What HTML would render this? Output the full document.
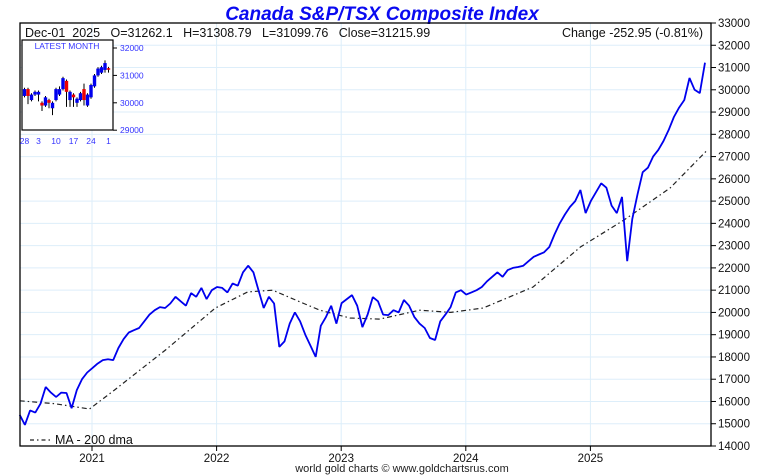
<!DOCTYPE html>
<html><head><meta charset="utf-8"><style>
html,body{margin:0;padding:0;background:#fff;}
svg{display:block;font-family:"Liberation Sans",sans-serif;}
</style></head><body>
<svg id="chart" width="760" height="475" viewBox="0 0 760 475">
<rect width="760" height="475" fill="#fff"/>
<text x="382" y="20" text-anchor="middle" font-size="19" font-weight="bold" font-style="italic" fill="#0a0af0">Canada S&amp;P/TSX Composite Index</text>
<g id="grid"></g>
<g id="yaxis"></g>
<g id="xaxis"></g>
<path id="ma" fill="none" stroke="#222" stroke-width="1.2" stroke-dasharray="5,3,1.5,3"/>
<path id="price" fill="none" stroke="#0000ee" stroke-width="1.8" stroke-linejoin="bevel"/>
<rect x="20" y="23" width="691" height="423" fill="none" stroke="#000" stroke-width="1.3"/>
<text x="25" y="37" font-size="12.5" fill="#111" xml:space="preserve">Dec-01  2025   O=31262.1   H=31308.79   L=31099.76   Close=31215.99</text>
<text x="703" y="37" text-anchor="end" font-size="12.5" fill="#111">Change -252.95 (-0.81%)</text>
<g id="inset">
<rect x="22" y="40" width="91" height="90" fill="#fff" stroke="#000" stroke-width="1.2"/>
<text x="67" y="49" text-anchor="middle" font-size="8.5" fill="#3333ff">LATEST MONTH</text>
</g>
<g>
<line x1="30" y1="440" x2="50" y2="440" stroke="#222" stroke-width="1.2" stroke-dasharray="4,3,1.5,3"/>
<text x="55" y="444" font-size="12.5" fill="#111">MA - 200 dma</text>
</g>
<text x="402" y="472" text-anchor="middle" font-size="11" fill="#222">world gold charts © www.goldchartsrus.com</text>
</svg>
<script>
const yTicks=[14000,15000,16000,17000,18000,19000,20000,21000,22000,23000,24000,25000,26000,27000,28000,29000,30000,31000,32000,33000];
const yearTicks=[2021,2022,2023,2024,2025];
const priceStart=2020.42; // semi-monthly samples
const priceValues=[
15400,14950,15600,15500,15900,16650,16400,16200,16400,16380,15700,16510,17000,17300,
17500,17700,17860,17900,17860,18400,18800,19100,19200,19300,19600,19900,20100,20240,20200,20400,20700,20500,20300,20870,20700,21100,20600,21000,
21140,21100,20900,21300,21200,21800,22100,21800,21000,20200,20700,20400,18450,18700,19500,20000,19600,19000,18500,18000,19400,19800,20300,19500,
20420,20600,20780,20300,19340,19900,20690,20500,19900,19880,20100,20000,20560,20300,19800,19500,19300,18850,18760,19600,19900,20240,20900,21000,
20800,20900,21000,21140,21400,21600,21800,21600,21900,22000,22040,22100,22300,22500,22600,22700,22940,23500,24000,24400,24740,25000,25500,24460,
25000,25400,25800,25600,24800,24460,25190,22300,24200,25300,26300,26500,27000,27300,27700,28200,28780,29200,29540,30530,30000,29850,31216];
const maDates=[2020.42,2020.70,2020.98,2021.18,2021.59,2021.99,2022.25,2022.45,2022.70,2022.83,2023.07,2023.31,2023.63,2023.88,2024.14,2024.54,2024.92,2025.27,2025.64,2025.94];
const maValues=[16030,15900,15660,16510,18310,20200,20920,21000,20400,20100,19750,19700,20100,20000,20200,21140,22940,24150,25590,27300];
const candleLabels=["28","3","10","17","24","1"];
const candleLabelIdx=[0,4,9,14,19,24];
const candleOpen =[30250,30500,30100,30300,30300,30000,29900,30100,29800,30100,30300,30500,30800,30100,30300,30000,30100,30500,29900,30200,30600,31000,31100,31200,31262];
const candleClose=[30500,30250,30300,30400,30400,29900,30200,30000,30000,30500,30500,30900,30400,30400,30200,30150,30350,30100,30300,30650,31000,31250,31300,31450,31216];
const candleHigh =[30550,30550,30350,30450,30450,30050,30250,30150,30050,30550,30600,30950,30850,30450,30350,30200,30400,30700,30350,30700,31050,31300,31350,31550,31309];
const candleLow  =[30200,29950,30050,30250,30050,29700,29850,29800,29550,30050,30250,30450,29850,29850,29850,29850,30050,29900,29850,30150,30550,30950,31050,31100,31100];
const insetTicks=[29000,30000,31000,32000];

const NS="http://www.w3.org/2000/svg";
const X0=20,X1=711,Y0=23,Y1=446;
const xs=d=>92+(d-2021)*124.6;
const ys=v=>Y1-(v-14000)/(33000-14000)*(Y1-Y0);
function mk(tag,attrs,parent){const e=document.createElementNS(NS,tag);for(const k in attrs)e.setAttribute(k,attrs[k]);parent.appendChild(e);return e;}
const grid=document.getElementById('grid'),ya=document.getElementById('yaxis'),xa=document.getElementById('xaxis');
yTicks.forEach(t=>{
  const y=ys(t);
  if(t>14000&&t<33000){const g=mk('line',{x1:X0,x2:X1,y1:y,y2:y,stroke:'#ddeefa','stroke-width':1},grid);
  
  }
  const tk=mk('line',{x1:X1,x2:X1+5,y1:y,y2:y,stroke:'#000'},ya);
  
  
  const tx=mk('text',{x:718,y:y+4,'font-size':11.5,fill:'#111'},ya);tx.textContent=t;
  
  
});
yearTicks.forEach(yr=>{
  const x=xs(yr);
  const g=mk('line',{x1:x,x2:x,y1:Y0,y2:Y1,stroke:'#ddeefa','stroke-width':1},grid);
  
  
  const tk=mk('line',{x1:x,x2:x,y1:Y1,y2:Y1+5,stroke:'#000'},xa);
  
  
  const tx=mk('text',{x:x,y:462,'font-size':11.5,fill:'#111','text-anchor':'middle'},xa);tx.textContent=yr;
  
  
});
document.getElementById('price').setAttribute('d',priceValues.map((v,i)=>(i?'L':'M')+xs(priceStart+i/24).toFixed(1)+','+ys(v).toFixed(1)).join(''));
document.getElementById('ma').setAttribute('d',maValues.map((v,i)=>(i?'L':'M')+xs(maDates[i]).toFixed(1)+','+ys(v).toFixed(1)).join(''));
const inset=document.getElementById('inset');
const iy=v=>48+(32000-v)/1000*27.4;
const ix=i=>24.5+i*3.5;
insetTicks.forEach(t=>{
  const y=iy(t);
  const g=mk('line',{x1:113,x2:117,y1:y,y2:y,stroke:'#000'},inset);
  
  
  const tx=mk('text',{x:120,y:y+3,'font-size':8.5,fill:'#3333ff'},inset);tx.textContent=t;
  
  
});
candleLabels.forEach((l,k)=>{
  const x=ix(candleLabelIdx[k]);
  const tx=mk('text',{x:x,y:144,'font-size':8.5,fill:'#3333ff','text-anchor':'middle'},inset);tx.textContent=l;
  
  
});
candleOpen.forEach((o,i)=>{
  const c=candleClose[i],x=ix(i),up=c>=o;
  const w=mk('line',{x1:x,x2:x,y1:iy(candleHigh[i]),y2:iy(candleLow[i]),stroke:'#000','stroke-width':1},inset);
  
  
  const top=iy(Math.max(o,c)),bot=iy(Math.min(o,c));
  const r=mk('rect',{x:x-1.7,y:top,width:3.4,height:Math.max(1.5,bot-top),fill:up?'#0000ee':'#ee0000'},inset);
  
  
});
</script>
</body></html>
